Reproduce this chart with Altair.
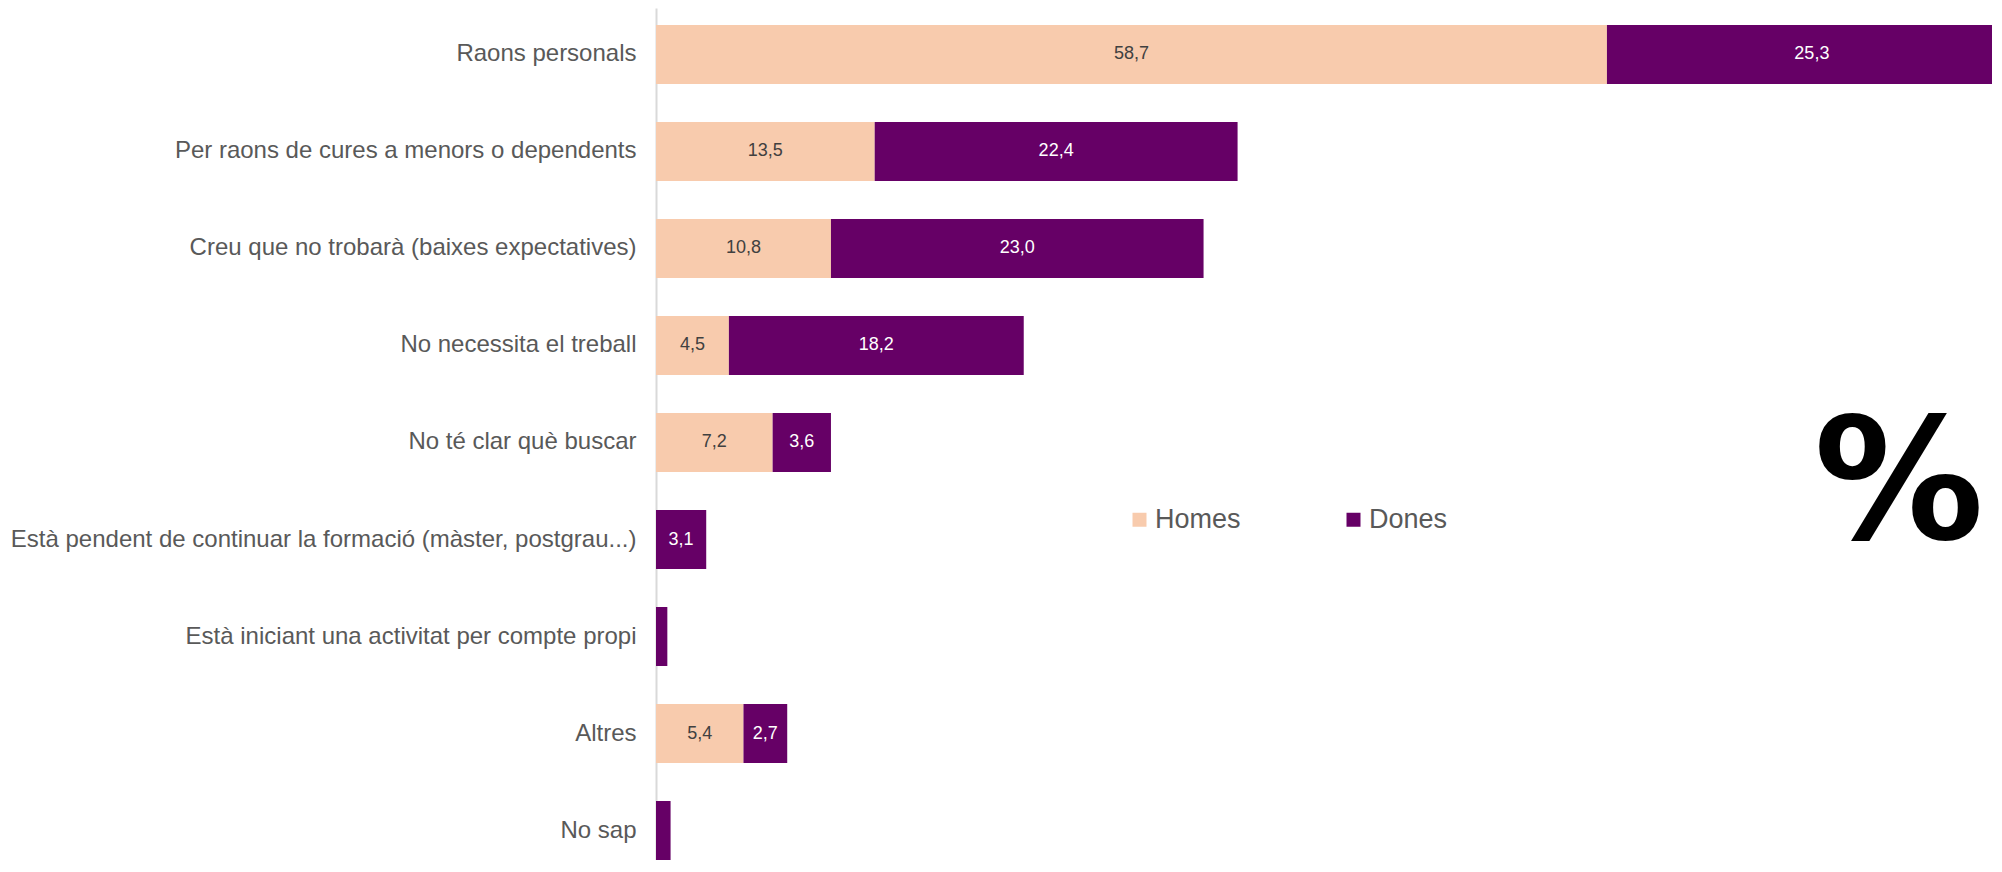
import altair as alt
import pandas as pd

categories = [
    "Raons personals",
    "Per raons de cures a menors o dependents",
    "Creu que no trobarà (baixes expectatives)",
    "No necessita el treball",
    "No té clar què buscar",
    "Està pendent de continuar la formació (màster, postgrau...)",
    "Està iniciant una activitat per compte propi",
    "Altres",
    "No sap",
]
homes = [58.7, 13.5, 10.8, 4.5, 7.2, 0.0, 0.0, 5.4, 0.0]
dones = [25.3, 22.4, 23.0, 18.2, 3.6, 3.1, 0.7, 2.7, 0.9]
series = ["Homes", "Dones"]
colors = ["#F8CBAD", "#660066"]
label_colors = ["#404040", "#FFFFFF"]

rows = []
for c, h, d in zip(categories, homes, dones):
    rows.append(dict(cat=c, series="Homes", start=0.0, end=h, value=h))
    rows.append(dict(cat=c, series="Dones", start=h, end=h + d, value=d))
df = pd.DataFrame(rows)
df["mid"] = (df["start"] + df["end"]) / 2
df["label"] = df["value"].map(lambda v: f"{v:.1f}".replace(".", ","))
df_bars = df[df["value"] > 0]
df_text = df[df["value"] >= 2]

FONT = "Liberation Sans"
PX_PER_UNIT = 16.2
PLOT_W = 1336
x_scale = alt.Scale(domain=[0, PLOT_W / PX_PER_UNIT], nice=False, zero=True)
y_scale = alt.Scale(paddingInner=0.392, paddingOuter=0.0876, align=1)

y_enc = alt.Y(
    "cat:N",
    sort=categories,
    scale=y_scale,
    axis=alt.Axis(
        title=None,
        labelFont=FONT,
        labelFontSize=24,
        labelColor="#595959",
        labelPadding=20,
        labelLimit=800,
        ticks=False,
        domainColor="#D9D9D9",
        domainWidth=2,
        grid=False,
    ),
)

bars = alt.Chart(df_bars).mark_bar(clip=True).encode(
    x=alt.X("start:Q", scale=x_scale, axis=None),
    x2="end:Q",
    y=y_enc,
    color=alt.Color(
        "series:N",
        scale=alt.Scale(domain=series, range=colors),
        legend=alt.Legend(
            title=None,
            orient="none",
            legendX=470,
            legendY=498,
            direction="horizontal",
            columns=2,
            symbolType="square",
            symbolSize=196,
            symbolStrokeWidth=0,
            labelFont=FONT,
            labelFontSize=27,
            labelColor="#595959",
            labelOffset=2,
            columnPadding=99,
        ),
    ),
)

texts = alt.Chart(df_text).mark_text(font=FONT, fontSize=18, baseline="middle").encode(
    x=alt.X("mid:Q", scale=x_scale, axis=None),
    y=y_enc,
    text="label:N",
    color=alt.Color("series:N", scale=alt.Scale(domain=series, range=label_colors), legend=None),
)

chart = (
    alt.layer(bars, texts)
    .resolve_scale(color="independent")
    .properties(
        width=PLOT_W,
        height=852,
        autosize=alt.AutoSizeParams(type="none"),
        padding={"left": 648, "top": 0, "right": 0, "bottom": 0},
        background="#FFFFFF",
        title=alt.TitleParams(
            "%",
            font="DejaVu Sans",
            fontSize=170,
            fontWeight="bold",
            color="#000000",
            anchor="end",
            orient="top",
            frame="group",
            baseline="alphabetic",
            offset=0,
            dx=-8,
            dy=701,
        ),
    )
    .configure_view(stroke=None)
)

chart.save("out.html", embed_options={"renderer": "svg", "actions": False})
